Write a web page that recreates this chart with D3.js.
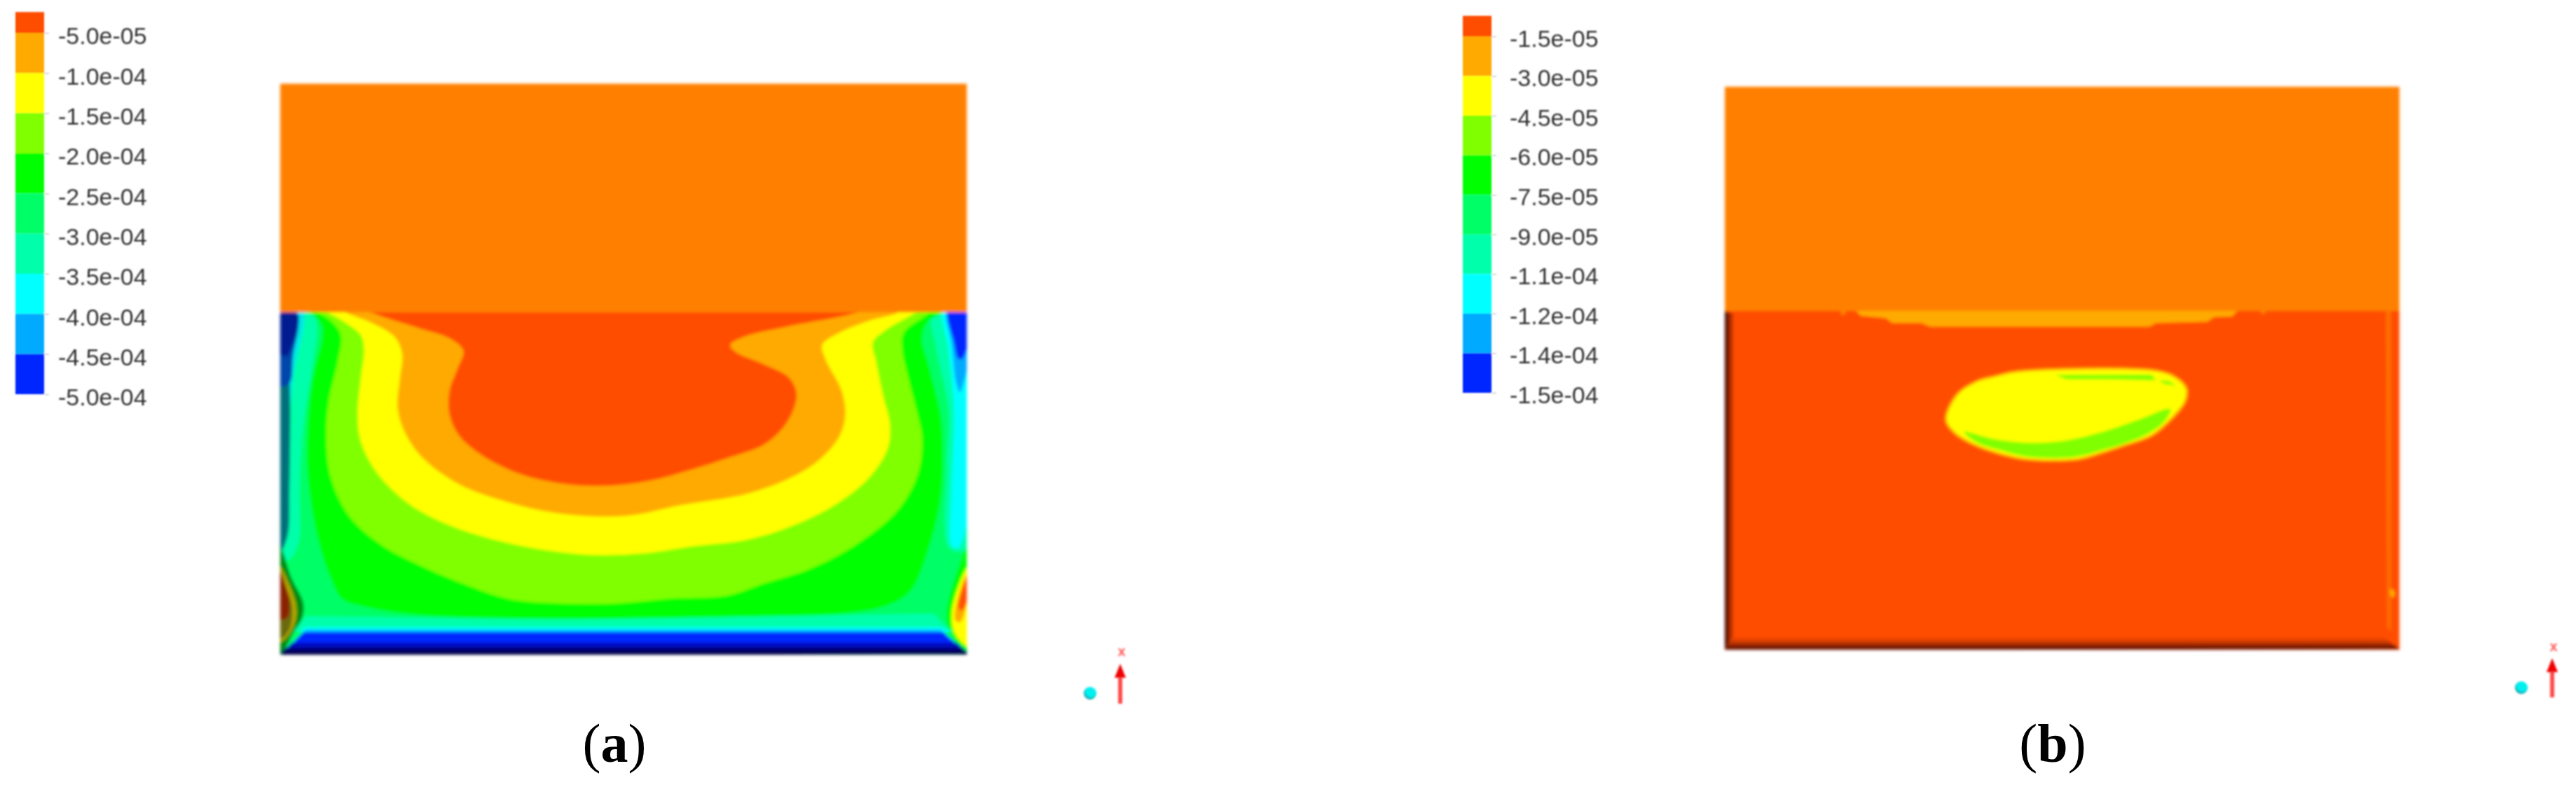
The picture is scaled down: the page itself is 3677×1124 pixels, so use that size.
<!DOCTYPE html>
<meta charset="utf-8">
<style>
    body { margin: 0; background: #fff; }
    text { font-family: "Liberation Sans", sans-serif; }
    .legend text { font-size: 34px; fill: #333; }
    .legend line { stroke: #ccc; stroke-width: 1.5; }
    .caption { font-family: "Liberation Serif", serif; font-size: 78px; fill: #000; }
    .caption tspan { font-weight: bold; }
    .axisname { font-size: 20px; fill: #ff5a5a; font-weight: bold; }
</style>
<body>
<script src="https://d3js.org/d3.v7.min.js"></script>
<script>
    // legend values
    var labelsA = ["-5.0e-05", "-1.0e-04", "-1.5e-04", "-2.0e-04", "-2.5e-04", "-3.0e-04", "-3.5e-04", "-4.0e-04", "-4.5e-04", "-5.0e-04"];
    var labelsB = ["-1.5e-05", "-3.0e-05", "-4.5e-05", "-6.0e-05", "-7.5e-05", "-9.0e-05", "-1.1e-04", "-1.2e-04", "-1.4e-04", "-1.5e-04"];
    var bandColors = ["#ff4d00", "#ffaa00", "#ffff00", "#80ff00", "#00ff00", "#00ff66", "#00ffaa", "#00ffff", "#00aaff", "#0026ff"];

    // contour outlines, in plate units
    var plateA = { x: [30, 1522], yInterface: 75, yBottom: 1495, yTop: -873 };
    var greenA = [[60,40],[100,85],[120,130],[120,190],[100,350],[90,550],[90,750],[110,1000],[140,1180],[165,1265],[210,1295],[330,1330],[640,1345],[1000,1340],[1250,1325],[1350,1290],[1400,1230],[1440,1050],[1465,850],[1470,640],[1465,500],[1440,300],[1425,190],[1435,120],[1480,60],[1480,40]];
    var limeA = [[90,40],[140,110],[162,170],[155,280],[135,450],[130,600],[140,760],[180,920],[250,1040],[340,1130],[440,1210],[530,1265],[640,1282],[760,1282],[880,1262],[1000,1250],[1080,1200],[1180,1140],[1280,1040],[1370,900],[1415,750],[1425,600],[1415,500],[1395,350],[1382,230],[1385,160],[1440,78],[1460,40]];
    var yellowA = [[110,40],[165,110],[205,170],[212,230],[205,350],[198,500],[205,610],[240,740],[310,870],[400,960],[520,1030],[640,1070],[720,1082],[820,1075],[930,1045],[1040,1020],[1130,970],[1230,880],[1310,760],[1350,640],[1355,540],[1340,420],[1325,280],[1318,200],[1345,150],[1410,78],[1440,40]];
    var orangeA = [[140,40],[175,78],[230,120],[280,180],[295,250],[290,350],[285,470],[300,570],[340,680],[420,790],[520,860],[620,905],[720,922],[800,915],[900,875],[1040,830],[1130,770],[1200,690],[1245,590],[1258,500],[1250,400],[1215,270],[1208,210],[1240,165],[1310,110],[1370,78],[1400,40]];
    var redA = [[190,40],[230,78],[330,140],[400,185],[428,235],[415,310],[398,400],[398,500],[420,590],[470,670],[550,745],[640,785],[730,795],[830,775],[920,730],[1010,675],[1080,625],[1120,560],[1145,480],[1152,410],[1135,345],[1080,290],[1020,240],[1008,210],[1040,175],[1130,135],[1280,78],[1330,40]];

    // left wall
    var leftAqua = [[30,60],[100,60],[110,140],[100,300],[80,550],[72,800],[70,1030],[50,1100],[30,1100]];
    var leftCyan = [[30,60],[80,70],[78,160],[62,300],[50,500],[42,700],[30,800]];
    var leftTeal = [[30,70],[66,85],[68,130],[52,260],[52,500],[50,800],[46,1000],[30,1070]];
    var leftBlue = [[30,70],[68,80],[70,130],[58,250],[50,370],[30,380]];
    var leftNavy = [[32,80],[66,85],[68,130],[54,220],[44,255],[32,250]];
    var leftGreen = [[28,1040],[55,1180],[80,1280],[78,1340],[60,1400],[30,1490]];
    var leftYellow = [[28,1130],[48,1200],[64,1290],[62,1360],[45,1420],[30,1440]];
    var leftOlive = [[28,1140],[44,1220],[56,1300],[50,1390],[30,1430]];
    var leftRed = [[28,1140],[40,1200],[50,1270],[46,1340],[30,1350]];

    // right wall
    var rightAqua = [[1446,60],[1456,228],[1482,476],[1479,725],[1484,1053],[1525,1053],[1525,60]];
    var rightCyan = [[1471,60],[1482,228],[1494,476],[1489,825],[1489,1043],[1502,1053],[1525,920],[1525,60]];
    var rightAzure = [[1479,60],[1489,208],[1499,367],[1507,407],[1515,367],[1525,277],[1525,60]];
    var rightBlue = [[1482,60],[1494,198],[1504,268],[1512,268],[1525,198],[1525,60]];
    var rightGreen = [[1525,1043],[1497,1172],[1479,1301],[1479,1361],[1492,1421],[1525,1500]];
    var rightYellow = [[1525,1132],[1497,1252],[1489,1341],[1497,1411],[1525,1460]];
    var rightOrange = [[1525,1152],[1504,1252],[1497,1351],[1507,1361],[1525,1252]];
    var rightRed = [[1525,1162],[1504,1301],[1512,1311],[1525,1242]];

    // bottom wall, straight edged
    var bottomBands = [
        { c: "#00ffaa", pts: [[85,1335],[640,1350],[1450,1325],[1490,1400],[60,1400]] },
        { c: "#00ffff", pts: [[85,1382],[1465,1382],[1490,1400],[70,1400]] },
        { c: "#00aaff", pts: [[85,1392],[1465,1392],[1480,1415],[75,1415]] },
        { c: "#0026ff", pts: [[80,1402],[1470,1402],[1500,1450],[55,1450]] },
        { c: "#0010c0", pts: [[55,1445],[1500,1445],[1515,1472],[42,1472]] },
        { c: "#00007a", pts: [[42,1465],[1512,1465],[1522,1485],[34,1485]] },
        { c: "#000048", pts: [[34,1480],[1522,1480],[1525,1494],[30,1496]] }
    ];

    // panel (b), in its own plate units
    var plateB = { x: [35, 1545], yInterface: 75, yBottom: 1475, yTop: -851 };
    var sliverB = [[325,70],[340,95],[395,105],[410,125],[475,125],[495,140],[985,140],[1000,125],[1115,120],[1130,100],[1170,98],[1185,70]];
    var speckLeftB = [[294,70],[306,70],[304,90],[296,90]];
    var speckRightB = [[1234,70],[1246,70],[1244,86],[1236,86]];
    var blobB = [[690,325],[1000,322],[1040,345],[1068,395],[1065,450],[1035,520],[990,590],[930,630],[880,660],[825,688],[710,688],[650,665],[590,625],[550,580],[530,525],[555,420],[600,365],[640,345]];
    var crescentB = [[570,575],[640,605],[720,620],[800,610],[880,575],[960,525],[1032,480],[1020,530],[980,585],[925,625],[880,650],[820,678],[715,678],[650,650],[600,620]];
    var topSliverB = [[775,340],[990,338],[1000,362],[900,358],[800,358]];
    var topSpotB = [[1010,362],[1030,365],[1045,385],[1015,375]];
    var leftWallB = [[35,75],[54,85],[54,1430],[35,1475]];
    var leftWallMidB = [[35,75],[47,85],[47,1440],[35,1475]];
    var leftWallInnerB = [[35,75],[41,85],[41,1455],[35,1475]];
    var bottomWallB = [[52,1425],[1510,1425],[1545,1470],[35,1475]];
    var bottomWallMidB = [[48,1440],[1522,1440],[1545,1472],[35,1476]];
    var bottomWallInnerB = [[42,1456],[1534,1456],[1545,1473],[35,1476]];
    var rightWallB = [[1515,75],[1526,75],[1526,1400],[1518,1380]];
    var spotB = [[1525,1222],[1535,1240],[1530,1260],[1524,1245]];

    var width = 3677, height = 1124;

    var svg = d3.select("body").append("svg")
        .attr("width", width)
        .attr("height", height)
        .style("display", "block");

    var defs = svg.append("defs");
    [["soft", 1.9], ["softText", 1.3], ["softGlyph", 1.4]].forEach(function(f) {
        defs.append("filter")
            .attr("id", f[0])
            .attr("x", "-5%").attr("y", "-5%").attr("width", "110%").attr("height", "110%")
            .append("feGaussianBlur").attr("stdDeviation", f[1]);
    });

    function drawLegend(labels, x0, x1, y0, y1, textDy, padding) {
        var g = svg.append("g").attr("class", "legend").attr("filter", "url(#softText)");
        var y = d3.scaleLinear().domain([0, labels.length - 1]).range([y0, y1]);

        g.selectAll("rect").data(bandColors).enter().append("rect")
            .attr("x", x0)
            .attr("width", x1 - x0)
            .attr("y", function(d, i) { return i == 0 ? y(-0.52) : y(i - 1); })
            .attr("height", function(d, i) { return i == 0 ? y(0) - y(-0.52) : y(i) - y(i - 1); })
            .attr("fill", function(d) { return d; });

        var axis = d3.axisRight(y)
            .tickValues(d3.range(labels.length))
            .tickFormat(function(i) { return labels[i]; })
            .tickSize(7)
            .tickPadding(padding);

        var ax = g.append("g").attr("transform", "translate(" + x1 + ",0)").call(axis);
        ax.select(".domain").remove();
        ax.selectAll("text").attr("dy", textDy).attr("fill", null);
        ax.selectAll("line").attr("stroke", null);
        ax.attr("font-size", null).attr("font-family", null);
    }

    function makePlate(id, plate, px, py) {
        var x = d3.scaleLinear().domain(plate.x).range(px);
        var y = d3.scaleLinear().domain([plate.yInterface, plate.yBottom]).range(py);
        var smooth = d3.line().x(function(d) { return x(d[0]); }).y(function(d) { return y(d[1]); }).curve(d3.curveCatmullRomClosed);
        var straight = d3.line().x(function(d) { return x(d[0]); }).y(function(d) { return y(d[1]); }).curve(d3.curveLinearClosed);

        defs.append("clipPath").attr("id", id)
            .append("rect")
            .attr("x", x(plate.x[0]))
            .attr("y", y(plate.yInterface))
            .attr("width", x(plate.x[1]) - x(plate.x[0]))
            .attr("height", y(plate.yBottom) - y(plate.yInterface));

        var outer = svg.append("g").attr("filter", "url(#soft)");
        outer.append("rect")
            .attr("x", x(plate.x[0]))
            .attr("y", y(plate.yTop))
            .attr("width", x(plate.x[1]) - x(plate.x[0]))
            .attr("height", y(plate.yInterface) - y(plate.yTop) + 1)
            .attr("fill", "#ff8000");

        var g = outer.append("g").attr("clip-path", "url(#" + id + ")");
        return {
            g: g,
            base: function(c) {
                g.append("rect")
                    .attr("x", x(plate.x[0]))
                    .attr("y", y(plate.yInterface))
                    .attr("width", x(plate.x[1]) - x(plate.x[0]))
                    .attr("height", y(plate.yBottom) - y(plate.yInterface))
                    .attr("fill", c);
            },
            round: function(pts, c) { return g.append("path").attr("d", smooth(pts)).attr("fill", c); },
            flat: function(pts, c) { return g.append("path").attr("d", straight(pts)).attr("fill", c); }
        };
    }

    function drawTriad(sx, sy, ax, tip, headBase, bottom, ly) {
        var grad = defs.append("radialGradient").attr("id", "ball" + ax)
            .attr("cx", "55%").attr("cy", "40%").attr("r", "60%");
        grad.append("stop").attr("offset", "65%").attr("stop-color", "#00f0f0");
        grad.append("stop").attr("offset", "100%").attr("stop-color", "#0a7f86");

        var g = svg.append("g").attr("filter", "url(#softGlyph)");
        g.append("circle").attr("cx", sx).attr("cy", sy).attr("r", 9).attr("fill", "url(#ball" + ax + ")");
        g.append("line").attr("x1", ax).attr("x2", ax).attr("y1", headBase).attr("y2", bottom)
            .attr("stroke", "#ff4a4a").attr("stroke-width", 6);
        g.append("path")
            .attr("d", d3.line()([[ax, tip], [ax + 8, headBase], [ax - 8, headBase]]) + "Z")
            .attr("fill", "#f00000");
        g.append("text").attr("class", "axisname").attr("x", ax + 2).attr("y", ly)
            .attr("text-anchor", "middle").text("x");
    }

    // panel (a)
    drawLegend(labelsA, 22, 63, 47, 563, "0.47em", 13);

    var a = makePlate("clipA", plateA, [400, 1380], [446, 935]);
    a.base("#00ff66");
    a.round(leftAqua, "#00ffaa");
    a.round(leftCyan, "#00e8e8");
    a.round(leftTeal, "#00707a");
    a.round(leftBlue, "#0044aa");
    a.round(leftNavy, "#001a90");
    a.round(rightAqua, "#00ffaa");
    a.round(rightCyan, "#00ffff");
    a.round(rightAzure, "#00aaff");
    a.round(rightBlue, "#0026ff");
    a.round(greenA, "#00ff00");
    a.round(limeA, "#80ff00");
    a.round(yellowA, "#ffff00");
    a.round(orangeA, "#ffaa00");
    a.round(redA, "#ff4d00");
    a.round(leftGreen, "#008a10");
    a.round(leftYellow, "#b8a800");
    a.round(leftOlive, "#6a6a10");
    a.round(leftRed, "#8a2400");
    a.round(rightGreen, "#00ff00");
    a.round(rightYellow, "#ffff00");
    a.round(rightOrange, "#ffaa00");
    a.round(rightRed, "#ff4d00");
    bottomBands.forEach(function(b) { a.flat(b.pts, b.c); });

    drawTriad(1556, 990, 1599, 948, 968, 1005, 937);

    // panel (b)
    drawLegend(labelsB, 2088, 2129, 52, 561, "0.42em", 19);

    var b = makePlate("clipB", plateB, [2462, 3425], [444, 928]);
    b.base("#ff4d00");
    b.flat(sliverB, "#ffaa00");
    b.flat(speckLeftB, "#ff8a00");
    b.flat(speckRightB, "#ff8a00");
    b.flat(leftWallB, "#c83400");
    b.flat(leftWallMidB, "#8a2000");
    b.flat(leftWallInnerB, "#4a1000");
    b.flat(bottomWallB, "#e84400");
    b.flat(bottomWallMidB, "#b83000");
    b.flat(bottomWallInnerB, "#701800");
    b.flat(rightWallB, "#ff7000");
    b.round(spotB, "#ffaa00");
    b.round(blobB, "#ffff00").attr("stroke", "#ffaa00").attr("stroke-width", 3);
    b.round(crescentB, "#80ff00");
    b.flat(topSliverB, "#80ff00");
    b.flat(topSpotB, "#80ff00");

    drawTriad(3599, 982, 3643, 940, 960, 996, 930);

    // captions
    [["a", 877], ["b", 2930]].forEach(function(c) {
        var t = svg.append("text").attr("class", "caption")
            .attr("x", c[1]).attr("y", 1088)
            .attr("text-anchor", "middle");
        t.append("tspan").style("font-weight", "normal").text("(");
        t.append("tspan").text(c[0]);
        t.append("tspan").style("font-weight", "normal").text(")");
    });
</script>
